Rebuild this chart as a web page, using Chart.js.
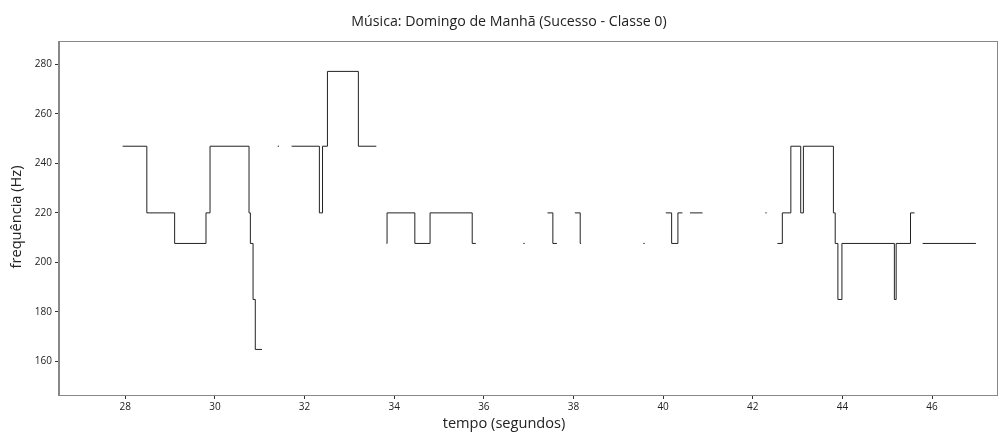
<!DOCTYPE html>
<html lang="pt">
<head>
    <meta charset="UTF-8">
    <title>Música: Domingo de Manhã</title>
    <script src="https://cdn.jsdelivr.net/npm/chart.js"></script>
    <style>
        body { margin: 0; background: #fff; }
    </style>
</head>
<body>
    <canvas id="grafico" width="998" height="434"></canvas>

    <script>
        // pontos de mudança da frequência (null = sem nota, quebra a linha)
        const tempo = [
            27.94, 28.48, 29.10, 29.80, 29.89, 30.76, 30.79, 30.85, 30.90, 31.05, 31.2,
            31.40, 31.43, 31.5,
            31.71, 32.33, 32.40, 32.51, 33.20, 33.60, 33.7,
            33.83, 33.84, 34.46, 34.80, 35.74, 35.82, 36.0,
            36.88, 36.91, 37.0,
            37.42, 37.54, 37.63, 37.8,
            38.03, 38.15, 38.17, 38.5,
            39.56, 39.59, 39.8,
            40.06, 40.19, 40.33, 40.43, 40.5,
            40.60, 40.88, 41.0,
            42.28, 42.31, 42.4,
            42.55, 42.66, 42.85, 43.07, 43.13, 43.80, 43.84, 43.90, 43.99, 45.16, 45.20, 45.52, 45.61, 45.7,
            45.79, 46.98
        ];
        const frequencia = [
            246.94, 220, 207.65, 220, 246.94, 220, 207.65, 185, 164.81, 164.81, null,
            246.94, 246.94, null,
            246.94, 220, 246.94, 277.18, 246.94, 246.94, null,
            207.65, 220, 207.65, 220, 207.65, 207.65, null,
            207.65, 207.65, null,
            220, 207.65, 207.65, null,
            220, 207.65, 207.65, null,
            207.65, 207.65, null,
            220, 207.65, 220, 220, null,
            220, 220, null,
            220, 220, null,
            207.65, 220, 246.94, 220, 246.94, 220, 207.65, 185, 207.65, 185, 207.65, 220, 220, null,
            207.65, 207.65
        ];
        const ticksX = [28, 30, 32, 34, 36, 38, 40, 42, 44, 46];
        const ticksY = [160, 180, 200, 220, 240, 260, 280];

        const titulo = 'Música: Domingo de Manhã (Sucesso - Classe 0)';
        const rotuloX = 'tempo (segundos)';
        const rotuloY = 'frequência (Hz)';

        const pontos = tempo.map((t, i) => ({ x: t, y: frequencia[i] }));

        // moldura + textos nas posições do original
        const textos = {
            id: 'textos',
            afterDraw(chart) {
                const ctx = chart.ctx;
                const a = chart.chartArea;
                ctx.save();
                ctx.strokeStyle = '#888';
                ctx.lineWidth = 1;
                ctx.strokeRect(a.left - 0.5, a.top - 0.5, a.right - a.left + 1, a.bottom - a.top + 1);
                ctx.fillStyle = '#222';
                ctx.textAlign = 'center';
                ctx.textBaseline = 'middle';
                ctx.font = '14.2px "Open Sans"';
                ctx.fillText(titulo, 509, 22);
                ctx.font = '14.6px "Open Sans"';
                ctx.fillText(rotuloX, 504, 424);
                ctx.translate(17, 217);
                ctx.rotate(-Math.PI / 2);
                ctx.fillText(rotuloY, 0, 0);
                ctx.restore();
            }
        };

        const ctx = document.getElementById('grafico').getContext('2d');
        new Chart(ctx, {
            type: 'line',
            data: {
                datasets: [{
                    data: pontos,
                    borderColor: '#222',
                    borderWidth: 1,
                    pointRadius: 0,
                    stepped: true,
                    spanGaps: false,
                    fill: false
                }]
            },
            options: {
                responsive: false,
                animation: false,
                layout: { padding: { top: 42, right: 1, left: 0, bottom: 0 } },
                plugins: {
                    legend: { display: false },
                    tooltip: { enabled: false }
                },
                scales: {
                    x: {
                        type: 'linear',
                        min: 26.52,
                        max: 47.45,
                        afterBuildTicks: s => { s.ticks = ticksX.map(v => ({ value: v })); },
                        afterFit: s => { s.height = 39; },
                        grid: { drawOnChartArea: false, drawTicks: true, tickLength: 4, color: '#333' },
                        border: { display: true, color: '#888' },
                        ticks: {
                            color: '#222',
                            padding: 2,
                            maxRotation: 0,
                            font: { family: 'Open Sans', size: 10 }
                        }
                    },
                    y: {
                        min: 146.4,
                        max: 289.06,
                        afterBuildTicks: s => { s.ticks = ticksY.map(v => ({ value: v })); },
                        afterFit: s => { s.width = 59; },
                        grid: { drawOnChartArea: false, drawTicks: true, tickLength: 4, color: '#333' },
                        border: { display: true, color: '#888' },
                        ticks: {
                            color: '#222',
                            padding: 3,
                            font: { family: 'Open Sans', size: 10 }
                        }
                    }
                }
            },
            plugins: [textos]
        });
    </script>
</body>
</html>
